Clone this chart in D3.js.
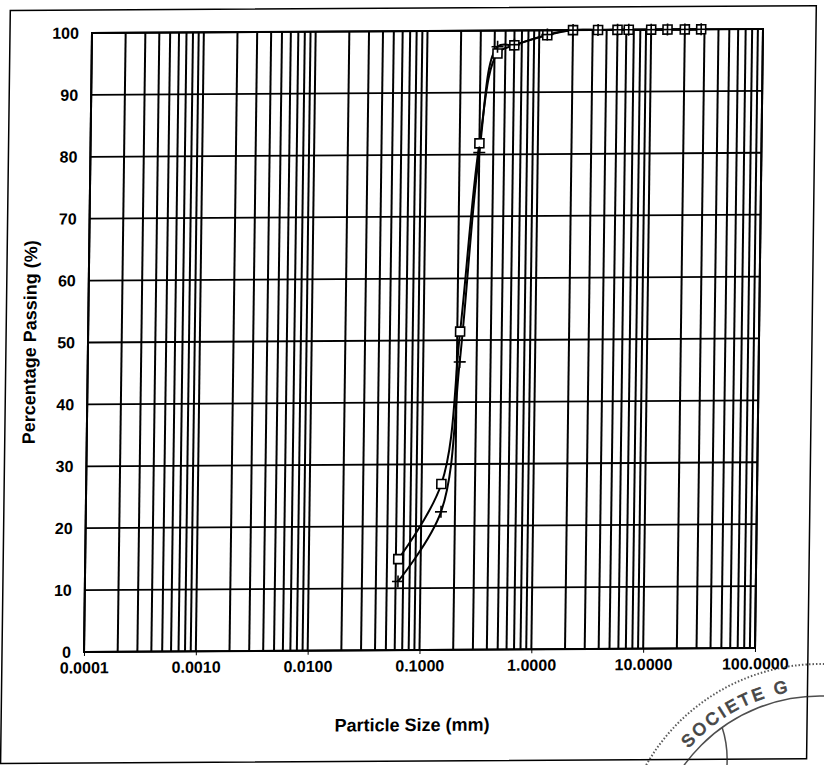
<!DOCTYPE html>
<html>
<head>
<meta charset="utf-8">
<script src="https://cdn.jsdelivr.net/npm/d3@7/dist/d3.min.js"></script>
<style>
  body { margin: 0; background: #fff; }
  text { font-family: Arial, "Liberation Sans", sans-serif; fill: #000; }
</style>
</head>
<body>
<svg id="chart" width="824" height="765"></svg>
<script>
// sieve sizes (mm) and percentage passing for the two samples
const sieveSizes = [0.063, 0.15, 0.212, 0.3, 0.425, 0.6, 1.18, 2, 3.35, 5, 6.3, 10, 14, 20, 28];
const passingSquare = [14.7, 26.8, 51.4, 81.8, 96.3, 97.6, 99.2, 100, 100, 100, 100, 100, 100, 100, 100];
const passingPlus = [11.1, 22.3, 46.5, 80.3, 97.4, 97.7, 99.3, 100, 100, 100, 100, 100, 100, 100, 100];

const xDecades = [0.0001, 0.001, 0.01, 0.1, 1, 10, 100];
const yTicks = [0, 10, 20, 30, 40, 50, 60, 70, 80, 90, 100];

const xTitle = 'Particle Size (mm)';
const yTitle = 'Percentage Passing (%)';
const stampText = 'SOCIETE G';

const svg = d3.select('#chart');
svg.append('rect').attr('width', 824).attr('height', 765).attr('fill', '#fff');

// the scanned sheet is slightly sheared, keep everything inside one skewed group
const page = svg.append('g')
    .attr('transform', 'matrix(1,-0.006,-0.0129,1,0.426,0.552)');

const margin = { left: 92, right: 763, top: 33, bottom: 652 };

const x = d3.scaleLog().domain([0.0001, 100]).range([margin.left, margin.right]);
const y = d3.scaleLinear().domain([0, 100]).range([margin.bottom, margin.top]);

// outer frame
page.append('rect')
    .attr('x', 10).attr('y', 10)
    .attr('width', 806).attr('height', 753)
    .attr('fill', 'none')
    .attr('stroke', '#000')
    .attr('stroke-width', 1.5);

// vertical grid, every 1..9 of each decade
page.append('g')
    .selectAll('line')
    .data(x.ticks())
    .enter()
    .append('line')
    .attr('x1', d => x(d)).attr('x2', d => x(d))
    .attr('y1', margin.top).attr('y2', margin.bottom)
    .attr('stroke', '#000')
    .attr('stroke-width', 2);

// horizontal grid
page.append('g')
    .selectAll('line')
    .data(yTicks)
    .enter()
    .append('line')
    .attr('x1', margin.left).attr('x2', margin.right)
    .attr('y1', d => y(d)).attr('y2', d => y(d))
    .attr('stroke', '#000')
    .attr('stroke-width', 1.8);

// plot border
page.append('rect')
    .attr('x', margin.left).attr('y', margin.top)
    .attr('width', margin.right - margin.left)
    .attr('height', margin.bottom - margin.top)
    .attr('fill', 'none')
    .attr('stroke', '#000')
    .attr('stroke-width', 2);

// axes (labels only, grid drawn above)
const xAxis = page.append('g')
    .attr('transform', `translate(0,${margin.bottom})`)
    .call(d3.axisBottom(x).tickValues(xDecades).tickFormat(d3.format('.4f')).tickSize(4).tickPadding(6));
xAxis.select('.domain').remove();
xAxis.selectAll('text')
    .attr('font-size', 16).attr('font-weight', 'bold')
    .attr('font-family', 'Arial, "Liberation Sans", sans-serif');

const yAxis = page.append('g')
    .attr('transform', `translate(${margin.left},0)`)
    .call(d3.axisLeft(y).tickValues(yTicks).tickSize(0).tickPadding(13));
yAxis.select('.domain').remove();
yAxis.selectAll('text')
    .attr('font-size', 16).attr('font-weight', 'bold')
    .attr('font-family', 'Arial, "Liberation Sans", sans-serif');

// axis titles
page.append('text')
    .attr('x', 421).attr('y', 733)
    .attr('text-anchor', 'middle')
    .attr('font-size', 18).attr('font-weight', 'bold')
    .text(xTitle);

page.append('text')
    .attr('transform', 'translate(40,342) rotate(-90)')
    .attr('text-anchor', 'middle')
    .attr('font-size', 18).attr('font-weight', 'bold')
    .text(yTitle);

// data lines
const line = d3.line()
    .x(d => x(d[0]))
    .y(d => y(d[1]))
    .curve(d3.curveCatmullRom.alpha(0.5));

const squarePts = sieveSizes.map((s, i) => [s, passingSquare[i]]);
const plusPts = sieveSizes.map((s, i) => [s, passingPlus[i]]);

[squarePts, plusPts].forEach(pts => {
    page.append('path')
        .datum(pts)
        .attr('d', line)
        .attr('fill', 'none')
        .attr('stroke', '#000')
        .attr('stroke-width', 2);
});

// square markers
page.append('g')
    .selectAll('rect')
    .data(squarePts)
    .enter()
    .append('rect')
    .attr('x', d => x(d[0]) - 4.5)
    .attr('y', d => y(d[1]) - 4.5)
    .attr('width', 9).attr('height', 9)
    .attr('fill', '#fff')
    .attr('stroke', '#000')
    .attr('stroke-width', 1.6);

// plus markers
page.append('g')
    .selectAll('path')
    .data(plusPts)
    .enter()
    .append('path')
    .attr('d', d => {
        const cx = x(d[0]), cy = y(d[1]);
        return `M${cx - 6},${cy}H${cx + 6}M${cx},${cy - 6}V${cy + 6}`;
    })
    .attr('stroke', '#000')
    .attr('stroke-width', 1.6);

// rubber stamp in the lower right corner
const stamp = svg.append('g').attr('opacity', 0.8);
const sc = { x: 820, y: 864 };
stamp.append('circle')
    .attr('cx', sc.x).attr('cy', sc.y).attr('r', 200)
    .attr('fill', 'none').attr('stroke', '#333')
    .attr('stroke-width', 2).attr('stroke-dasharray', '1.5,2');
stamp.append('circle')
    .attr('cx', sc.x).attr('cy', sc.y).attr('r', 168)
    .attr('fill', 'none').attr('stroke', '#222')
    .attr('stroke-width', 1.5);
stamp.append('path')
    .attr('d', 'M722,727 Q728,745 727,765')
    .attr('fill', 'none').attr('stroke', '#222').attr('stroke-width', 1.5);

const arcR = 175;
const a0 = -140 * Math.PI / 180, a1 = -60 * Math.PI / 180;
stamp.append('path')
    .attr('id', 'stampArc')
    .attr('d', `M${sc.x + arcR * Math.cos(a0)},${sc.y + arcR * Math.sin(a0)} A${arcR},${arcR} 0 0 1 ${sc.x + arcR * Math.cos(a1)},${sc.y + arcR * Math.sin(a1)}`)
    .attr('fill', 'none');
stamp.append('text')
    .attr('font-size', 17)
    .attr('letter-spacing', 3)
    .attr('fill', 'none')
    .attr('stroke', '#222')
    .attr('stroke-width', 1)
    .append('textPath')
    .attr('href', '#stampArc')
    .attr('startOffset', 4)
    .text(stampText);
</script>
</body>
</html>
